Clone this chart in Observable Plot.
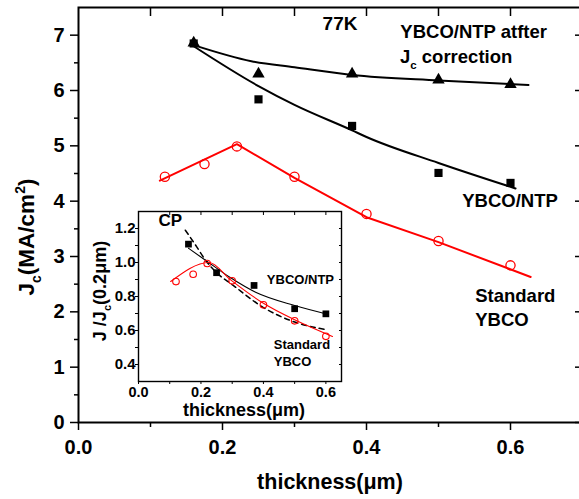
<!DOCTYPE html>
<html><head><meta charset="utf-8">
<script src="https://cdn.jsdelivr.net/npm/d3@7"></script>
<script src="https://cdn.jsdelivr.net/npm/@observablehq/plot@0.6"></script>
<style>
html,body{margin:0;padding:0;background:#fff;}
#wrap{position:relative;width:579px;height:499px;overflow:hidden;background:#fff;}
#wrap svg{position:absolute;}
</style></head><body><div id="wrap"></div>
<script>
// ---- main panel data ----
const ntpThick = [0.16, 0.25, 0.38, 0.50, 0.60];
const ntpCorrected = [6.86, 6.30, 6.30, 6.19, 6.11];
const ntpJc = [6.85, 5.84, 5.36, 4.51, 4.33];
const stdThick = [0.12, 0.175, 0.22, 0.30, 0.40, 0.50, 0.60];
const stdJc = [4.44, 4.67, 4.99, 4.44, 3.77, 3.28, 2.84];
const corrFitX = [0.16, 0.24, 0.30, 0.38, 0.50, 0.625];
const corrFitY = [6.82, 6.53, 6.42, 6.28, 6.18, 6.10];
const ntpFitX = [0.16, 0.25, 0.30, 0.38, 0.40, 0.50, 0.607];
const ntpFitY = [6.80, 6.08, 5.74, 5.28, 5.16, 4.69, 4.23];
const stdFitX = [0.113, 0.22, 0.30, 0.40, 0.50, 0.628];
const stdFitY = [4.37, 5.03, 4.42, 3.71, 3.26, 2.63];
// ---- inset data ----
const inNtpX = [0.16, 0.25, 0.37, 0.50, 0.60];
const inNtpY = [1.108, 0.94, 0.865, 0.728, 0.698];
const inStdX = [0.12, 0.175, 0.22, 0.30, 0.40, 0.50, 0.60];
const inStdY = [0.888, 0.931, 0.994, 0.892, 0.751, 0.657, 0.566];
const inNtpFitX = [0.16, 0.22, 0.295, 0.375, 0.50, 0.605];
const inNtpFitY = [1.084, 1.006, 0.91, 0.825, 0.747, 0.696];
const inStdFitX = [0.103, 0.226, 0.295, 0.40, 0.50, 0.621];
const inStdFitY = [0.888, 1.0, 0.898, 0.76, 0.663, 0.565];
const cpX = [0.15, 0.18, 0.22, 0.25, 0.30, 0.40, 0.50, 0.60];
const cpY = [1.19, 1.11, 1.0, 0.94, 0.87, 0.735, 0.65, 0.605];
// ---- ticks ----
const mainXMajor = [0, 0.2, 0.4, 0.6];
const mainXMinor = [0.1, 0.3, 0.5];
const mainXTop = [0.1, 0.2, 0.3, 0.4, 0.5, 0.6];
const mainYMajor = [0, 1, 2, 3, 4, 5, 6, 7];
const mainYMinor = [0.5, 1.5, 2.5, 3.5, 4.5, 5.5, 6.5];
const inXMajor = [0, 0.2, 0.4, 0.6];
const inXMinor = [0.1, 0.3, 0.5];
const inXAll = [0.1, 0.2, 0.3, 0.4, 0.5, 0.6];
const inYMajor = [0.4, 0.6, 0.8, 1.0, 1.2];
const inYMinor = [0.5, 0.7, 0.9, 1.1];
const inYAll = [0.4, 0.5, 0.6, 0.7, 0.8, 0.9, 1.0, 1.1, 1.2];

const FONT = "'Liberation Sans', Arial, sans-serif";
const zip = (xs, ys) => xs.map((x, i) => ({x, y: ys[i]}));
const f1 = d => d.toFixed(1);
const none = () => "";

const main = Plot.plot({
  width: 583, height: 499,
  marginLeft: 78, marginRight: 1, marginTop: 7, marginBottom: 77,
  x: {domain: [0, 0.7]},
  y: {domain: [0, 7.5]},
  style: {fontFamily: FONT, fontWeight: "bold", background: "white", maxWidth: "none", overflow: "visible", color: "black"},
  marks: [
    Plot.axisY(mainYMajor, {anchor: "left", tickSize: 8, tickPadding: 6, fontSize: 20, tickFormat: d => String(d), label: null, strokeWidth: 1.5}),
    Plot.axisY(mainYMinor, {anchor: "left", tickSize: 4, tickFormat: none, label: null, strokeWidth: 1.5}),
    Plot.axisY(mainYMajor, {anchor: "right", tickSize: -8, tickFormat: none, label: null, strokeWidth: 1.5}),
    Plot.axisY(mainYMinor, {anchor: "right", tickSize: -4, tickFormat: none, label: null, strokeWidth: 1.5}),
    Plot.axisX(mainXMajor, {anchor: "bottom", tickSize: 8, tickPadding: 9, fontSize: 20, tickFormat: f1, label: null, strokeWidth: 1.5}),
    Plot.axisX(mainXMinor, {anchor: "bottom", tickSize: 5, tickFormat: none, label: null, strokeWidth: 1.5}),
    Plot.axisX(mainXTop, {anchor: "top", tickSize: -8, tickFormat: none, label: null, strokeWidth: 1.5}),
    Plot.frame({stroke: "black", strokeWidth: 2}),
    Plot.line(zip(corrFitX, corrFitY), {x: "x", y: "y", stroke: "black", strokeWidth: 2, curve: "monotone-x"}),
    Plot.line(zip(ntpFitX, ntpFitY), {x: "x", y: "y", stroke: "black", strokeWidth: 2, curve: "monotone-x"}),
    Plot.line(zip(stdFitX, stdFitY), {x: "x", y: "y", stroke: "#ff0000", strokeWidth: 2}),
    Plot.dot(zip(ntpThick, ntpCorrected), {x: "x", y: "y", symbol: "triangle", fill: "black", r: 4.6}),
    Plot.dot(zip(ntpThick, ntpJc), {x: "x", y: "y", symbol: "square", fill: "black", r: 4.6}),
    Plot.dot(zip(stdThick, stdJc), {x: "x", y: "y", symbol: "circle", stroke: "#ff0000", fill: "none", strokeWidth: 1.3, r: 4.6}),
    Plot.text(["77K"], {x: 0.339, y: 7.085, textAnchor: "start", lineAnchor: "bottom", fontSize: 19, fill: "black"}),
    Plot.text(["YBCO/NTP atfter"], {x: 0.447, y: 6.94, textAnchor: "start", lineAnchor: "bottom", fontSize: 18.5, fill: "black"}),
    Plot.text(["YBCO/NTP"], {x: 0.533, y: 3.886, textAnchor: "start", lineAnchor: "bottom", fontSize: 18.5, fill: "black"}),
    Plot.text(["Standard"], {x: 0.551, y: 2.169, textAnchor: "start", lineAnchor: "bottom", fontSize: 18.5, fill: "black"}),
    Plot.text(["YBCO"], {x: 0.551, y: 1.735, textAnchor: "start", lineAnchor: "bottom", fontSize: 18.5, fill: "black"})
  ]
});
main.style.left = "0px"; main.style.top = "0px";

const inset = Plot.plot({
  width: 258, height: 235,
  marginLeft: 50, marginRight: 5, marginTop: 20, marginBottom: 45,
  x: {domain: [0, 0.65]},
  y: {domain: [0.3, 1.3]},
  style: {fontFamily: FONT, fontWeight: "bold", background: "transparent", maxWidth: "none", overflow: "visible", color: "black"},
  marks: [
    Plot.frame({fill: "white", stroke: null}),
    Plot.axisY(inYMajor, {anchor: "left", tickSize: 3, tickPadding: 0, fontSize: 15, tickFormat: f1, label: null}),
    Plot.axisY(inYMinor, {anchor: "left", tickSize: 3, tickFormat: none, label: null}),
    Plot.axisY(inYAll, {anchor: "right", tickSize: -3, tickFormat: none, label: null}),
    Plot.axisX(inXMajor, {anchor: "bottom", tickSize: 3, tickPadding: 2, fontSize: 14.5, tickFormat: f1, label: null}),
    Plot.axisX(inXMinor, {anchor: "bottom", tickSize: 3, tickFormat: none, label: null}),
    Plot.axisX(inXAll, {anchor: "top", tickSize: -3, tickFormat: none, label: null}),
    Plot.frame({stroke: "black", strokeWidth: 1.4}),
    Plot.line(zip(cpX, cpY), {x: "x", y: "y", stroke: "black", strokeWidth: 1.5, strokeDasharray: "5,4", curve: "monotone-x"}),
    Plot.line(zip(inNtpFitX, inNtpFitY), {x: "x", y: "y", stroke: "black", strokeWidth: 1.1, curve: "monotone-x"}),
    Plot.line(zip(inStdFitX, inStdFitY), {x: "x", y: "y", stroke: "#ff0000", strokeWidth: 1.1, curve: "monotone-x"}),
    Plot.dot(zip(inNtpX, inNtpY), {x: "x", y: "y", symbol: "square", fill: "black", r: 3.8}),
    Plot.dot(zip(inStdX, inStdY), {x: "x", y: "y", symbol: "circle", stroke: "#ff0000", fill: "none", strokeWidth: 1.1, r: 3.3}),
    Plot.text(["CP"], {x: 0.064, y: 1.212, textAnchor: "start", lineAnchor: "bottom", fontSize: 17, fill: "black"}),
    Plot.text(["YBCO/NTP"], {x: 0.411, y: 0.871, textAnchor: "start", lineAnchor: "bottom", fontSize: 13, fill: "black"}),
    Plot.text(["Standard"], {x: 0.433, y: 0.494, textAnchor: "start", lineAnchor: "bottom", fontSize: 13, fill: "black"}),
    Plot.text(["YBCO"], {x: 0.433, y: 0.394, textAnchor: "start", lineAnchor: "bottom", fontSize: 13, fill: "black"})
  ]
});
inset.style.left = "88px"; inset.style.top = "191px";

const wrap = document.getElementById("wrap");
wrap.appendChild(main);
wrap.appendChild(inset);

// rich text helper (subscripts / superscripts)
function rich(svg, x, y, parts, size, {anchor = "middle", rotate = 0} = {}) {
  const t = d3.select(svg).append("text")
    .attr("transform", `translate(${x},${y})` + (rotate ? ` rotate(${rotate})` : ""))
    .attr("text-anchor", anchor).attr("font-size", size).attr("font-weight", "bold")
    .attr("font-family", FONT).attr("fill", "black");
  let shift = 0;
  parts.forEach(p => {
    const [s, kind] = Array.isArray(p) ? p : [p, null];
    const target = kind === "sub" ? 0.3 * size : kind === "sup" ? -0.42 * size : 0;
    const ts = t.append("tspan").text(s).attr("dy", target - shift);
    if (kind) ts.attr("font-size", size * 0.62);
    shift = target;
  });
  return t;
}
// main axis titles
rich(main, 34, 237, ["J", ["c", "sub"], "(MA/cm", ["2", "sup"], ")"], 22.5, {rotate: -90});
rich(main, 330, 489, ["thickness(μm)"], 21.5);
rich(main, 400, 63, ["J", ["c", "sub"], " correction"], 18.5, {anchor: "start"});
// inset titles (inset svg offset 88,191)
rich(inset, 106 - 88, 291 - 191, ["J /J", ["c", "sub"], "(0.2μm)"], 18, {rotate: -90});
rich(inset, 244 - 88, 416 - 191, ["thickness(μm)"], 18);
</script></body></html>
